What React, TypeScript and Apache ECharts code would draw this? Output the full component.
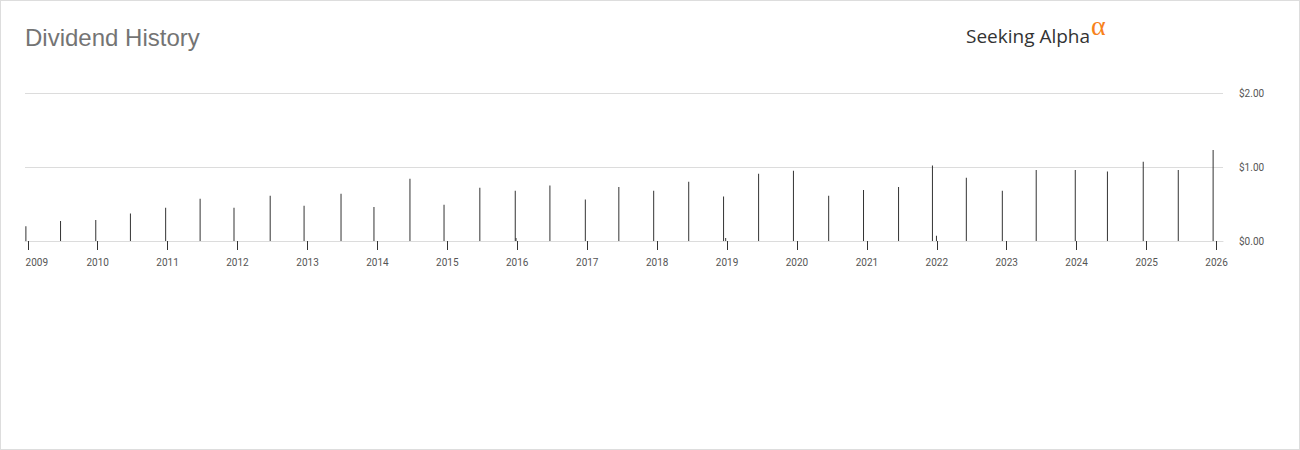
import React, { useEffect, useRef } from "react";
import * as echarts from "echarts";

// Dividend payment dates (ex-dates) and amounts in USD
const payDates: string[] = [
  "2008-12-22", "2009-06-21", "2009-12-22", "2010-06-21", "2010-12-22",
  "2011-06-20", "2011-12-14", "2012-06-20", "2012-12-14", "2013-06-25",
  "2013-12-14", "2014-06-20", "2014-12-15", "2015-06-20", "2015-12-22",
  "2015-12-26", "2016-06-20", "2016-12-22", "2017-06-15", "2017-12-14",
  "2018-06-15", "2018-12-14", "2018-12-25", "2019-06-15", "2019-12-14",
  "2020-06-15", "2020-12-14", "2021-06-15", "2021-12-09", "2021-12-30",
  "2022-06-04", "2022-12-09", "2023-06-04", "2023-12-25", "2024-06-10",
  "2024-12-14", "2025-06-15", "2025-12-14",
];
const amounts: number[] = [
  0.2, 0.27, 0.285, 0.37, 0.45,
  0.57, 0.45, 0.61, 0.475, 0.64,
  0.46, 0.84, 0.49, 0.72, 0.68,
  0.04, 0.75, 0.56, 0.73, 0.68,
  0.8, 0.6, 0.04, 0.91, 0.95,
  0.61, 0.69, 0.73, 1.02, 0.07,
  0.855, 0.68, 0.96, 0.96, 0.94,
  1.07, 0.96, 1.23,
];
const axisStart = "2008-12-20";
const axisEnd = "2026-02-01";
const yTicks: number[] = [0, 1, 2];

const YEAR_MS = 365.25 * 24 * 3600 * 1000;

export default function App() {
  const ref = useRef<HTMLDivElement>(null);

  useEffect(() => {
    if (!ref.current) return;
    const chart = echarts.init(ref.current, undefined, { renderer: "svg" });
    const data = payDates.map((d, i) => [d, amounts[i]]);
    chart.setOption({
      animation: false,
      useUTC: true,
      backgroundColor: "#ffffff",
      textStyle: { fontFamily: "Roboto, Arial, sans-serif" },
      graphic: [
        {
          type: "text",
          left: 24,
          top: 24,
          style: {
            text: "Dividend History",
            font: '24px "Liberation Sans", Arial, sans-serif',
            fill: "#747474",
          },
        },
        {
          type: "text",
          left: 965,
          top: 25,
          style: {
            text: "Seeking Alpha",
            font: '19px "Open Sans", sans-serif',
            fill: "#333333",
          },
        },
        {
          type: "text",
          left: 1090,
          top: 10,
          style: {
            text: "α",
            font: '28px "Liberation Serif", serif',
            fill: "#f7821b",
          },
        },
      ],
      grid: { left: 24, right: 76, top: 92, height: 148, containLabel: false },
      xAxis: {
        type: "time",
        min: axisStart,
        max: axisEnd,
        minInterval: YEAR_MS,
        maxInterval: YEAR_MS,
        axisLine: { show: true, lineStyle: { color: "#dcdcdc", width: 1 } },
        axisTick: { show: true, length: 9, lineStyle: { color: "#333333", width: 1 } },
        splitLine: { show: false },
        axisLabel: {
          show: true,
          margin: 16,
          fontSize: 10,
          color: "#555555",
          showMinLabel: false,
          showMaxLabel: false,
          hideOverlap: false,
          formatter: (v: number) => {
            const d = new Date(v);
            if (d.getUTCMonth() !== 0 || d.getUTCDate() !== 1) return "";
            const y = String(d.getUTCFullYear());
            return y === "2009" ? "{first|" + y + "}" : y;
          },
          rich: {
            first: { fontSize: 10, color: "#555555", padding: [0, 0, 0, 18] },
          },
        },
      },
      yAxis: {
        type: "value",
        position: "right",
        min: yTicks[0],
        max: yTicks[yTicks.length - 1],
        interval: 1,
        axisLine: { show: false },
        axisTick: { show: false },
        splitLine: { show: true, lineStyle: { color: "#dcdcdc", width: 1 } },
        axisLabel: {
          margin: 16,
          fontSize: 10,
          color: "#555555",
          formatter: (v: number) => "$" + v.toFixed(2),
        },
      },
      series: [
        {
          type: "bar",
          data,
          barWidth: 1,
          clip: false,
          itemStyle: { color: "#333333" },
          emphasis: { disabled: true },
        },
      ],
    });
    return () => chart.dispose();
  }, []);

  return (
    <div
      style={{
        position: "absolute",
        left: 0,
        top: 0,
        width: 1300,
        height: 450,
        boxSizing: "border-box",
        border: "1px solid #dddddd",
        background: "#fff",
      }}
    >
      <div ref={ref} style={{ width: 1298, height: 448 }} />
    </div>
  );
}
